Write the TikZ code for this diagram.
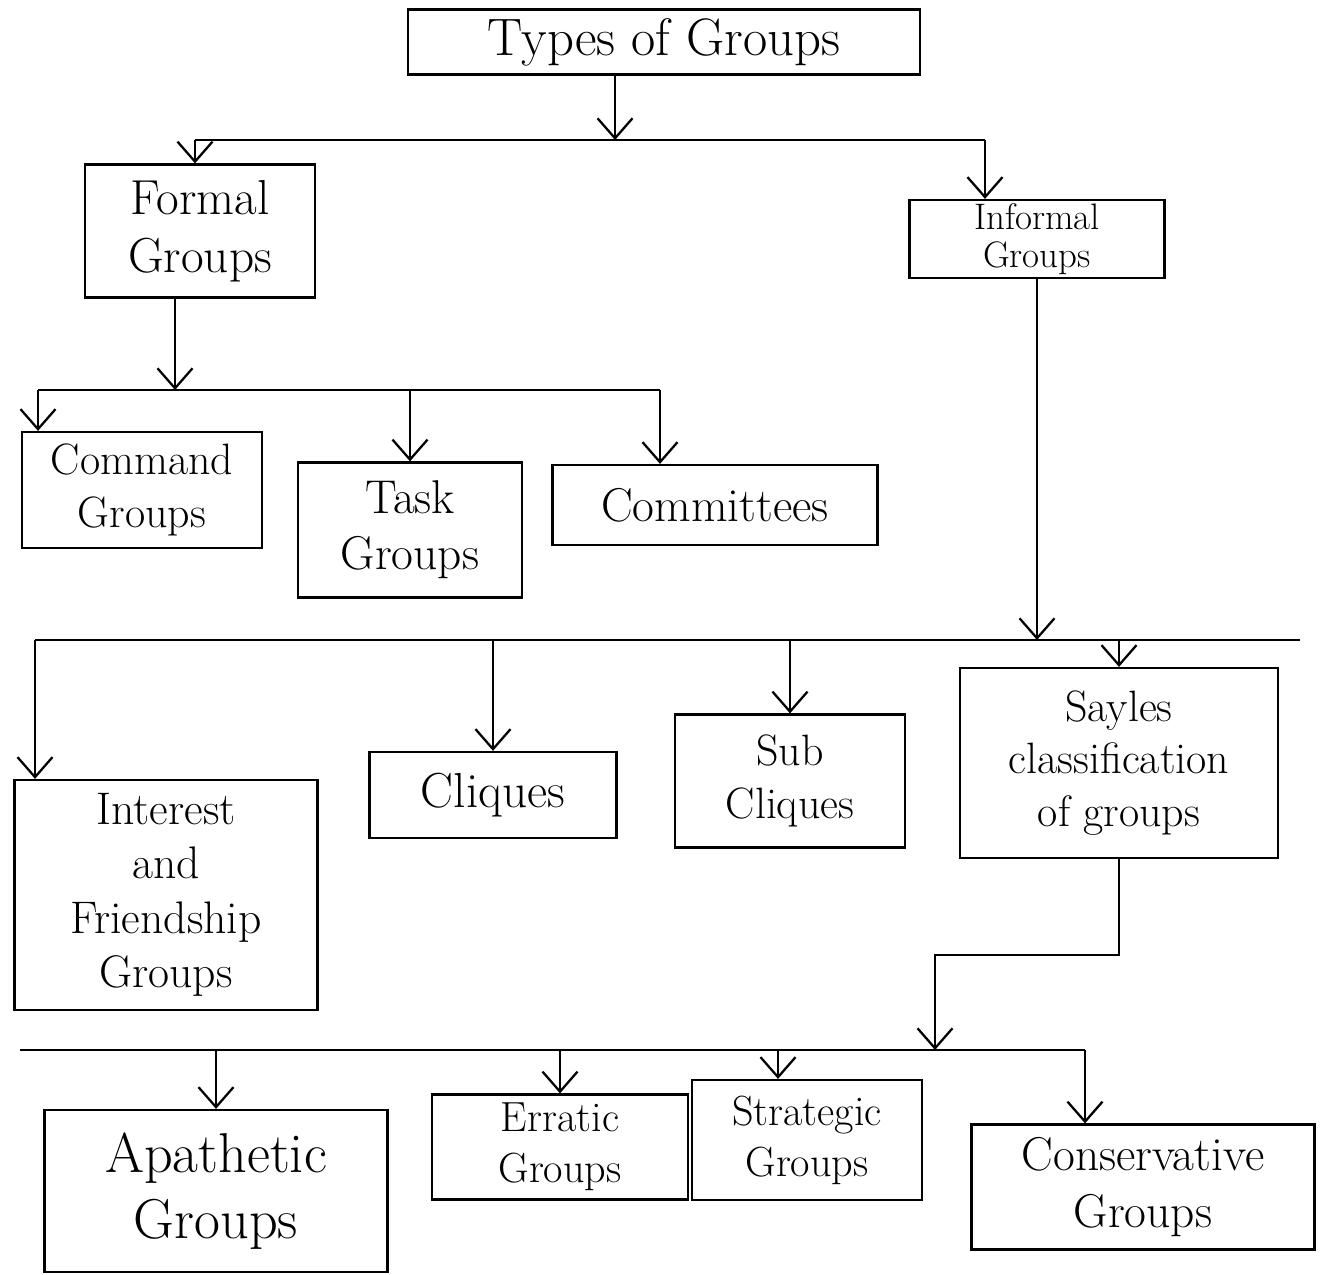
\documentclass[tikz,border=0pt]{standalone}
\usepackage{fontspec}
\usepackage{tikz}
\usetikzlibrary{arrows.meta}

\begin{document}
\begin{tikzpicture}[
  x=0.02cm, y=-0.02cm,
  box/.style={draw,line width=1.3pt,align=center,inner sep=2pt,font=\fontsize{25}{30}\selectfont},
  arrow/.style={-{Straight Barb[length=4mm,width=7mm,line width=1.3pt]},line width=1.3pt},
  bus/.style={line width=1.3pt}]
\useasboundingbox[fill=white] (0,0) rectangle (1326,1275);
% top level
\node[box, minimum width=10.24cm, minimum height=1.3cm, font=\fontsize{30}{34}\selectfont] (types) at (664,42) {Types of Groups};
\node[box, minimum width=4.6cm, minimum height=2.66cm, font=\fontsize{28}{33}\selectfont] (formal) at (200,231) {Formal\\Groups};
\node[box, minimum width=5.1cm, minimum height=1.56cm, inner sep=1pt, font=\fontsize{21}{22}\selectfont] (informal) at (1037,239) {Informal\\Groups};
% formal groups
\node[box, minimum width=4.8cm, minimum height=2.32cm] (command) at (142,490) {Command\\Groups};
\node[box, minimum width=4.48cm, minimum height=2.7cm, font=\fontsize{27}{32}\selectfont] (task) at (410,530) {Task\\Groups};
\node[box, minimum width=6.5cm, minimum height=1.6cm, font=\fontsize{27}{32}\selectfont] (committees) at (715,505) {Committees};
% informal groups
\node[box, minimum width=6.06cm, minimum height=4.6cm, font=\fontsize{26}{31}\selectfont] (interest) at (166,895) {Interest\\and\\Friendship\\Groups};
\node[box, minimum width=4.94cm, minimum height=1.72cm, font=\fontsize{28}{33}\selectfont] (cliques) at (493,795) {Cliques};
\node[box, minimum width=4.6cm, minimum height=2.66cm] (subcliques) at (790,781) {Sub\\Cliques};
\node[box, minimum width=6.36cm, minimum height=3.8cm] (sayles) at (1119,763) {Sayles\\classification\\of groups};
% sayles classification
\node[box, minimum width=6.86cm, minimum height=3.24cm, font=\fontsize{32}{38}\selectfont] (apathetic) at (216,1191) {Apathetic\\Groups};
\node[box, minimum width=5.12cm, minimum height=2.1cm, font=\fontsize{24}{29}\selectfont] (erratic) at (560,1147) {Erratic\\Groups};
\node[box, minimum width=4.6cm, minimum height=2.4cm, font=\fontsize{24}{29}\selectfont] (strategic) at (807,1140) {Strategic\\Groups};
\node[box, minimum width=6.86cm, minimum height=2.5cm, font=\fontsize{27}{32}\selectfont] (conservative) at (1143,1187) {Conservative\\Groups};
% junctions
\coordinate (j1) at (615,140);
\coordinate (b1l) at (195,140);
\coordinate (b1r) at (985,140);
\coordinate (j2) at (175,390);
\coordinate (b2l) at (38,390);
\coordinate (b2r) at (660,390);
\coordinate (b3l) at (35,640);
\coordinate (b3r) at (1300,640);
\coordinate (k1) at (935,955);
\coordinate (j4) at (935,1050);
\coordinate (b4l) at (20,1050);
\coordinate (b4r) at (1085,1050);
\draw[arrow] (types.south -| j1) -- (j1);
\draw[bus] (b1l) -- (b1r);
\draw[arrow] (b1l) -- (formal.north -| b1l);
\draw[arrow] (b1r) -- (informal.north -| b1r);
\draw[arrow] (formal.south -| j2) -- (j2);
\draw[bus] (b2l) -- (b2r);
\draw[arrow] (b2l) -- (command.north -| b2l);
\draw[arrow] (task.north |- b2l) -- (task.north);
\draw[arrow] (b2r) -- (committees.north -| b2r);
\draw[arrow] (informal.south) -- (informal.south |- b3l);
\draw[bus] (b3l) -- (b3r);
\draw[arrow] (b3l) -- (interest.north -| b3l);
\draw[arrow] (cliques.north |- b3l) -- (cliques.north);
\draw[arrow] (subcliques.north |- b3l) -- (subcliques.north);
\draw[arrow] (sayles.north |- b3l) -- (sayles.north);
\draw[arrow] (sayles.south) |- (k1) -- (j4);
\draw[bus] (b4l) -- (b4r);
\draw[arrow] (apathetic.north |- b4l) -- (apathetic.north);
\draw[arrow] (erratic.north |- b4l) -- (erratic.north);
\draw[arrow] ([xshift=-0.58cm]strategic.north |- b4l) -- ([xshift=-0.58cm]strategic.north);
\draw[arrow] (b4r) -- (conservative.north -| b4r);
\end{tikzpicture}
\end{document}
